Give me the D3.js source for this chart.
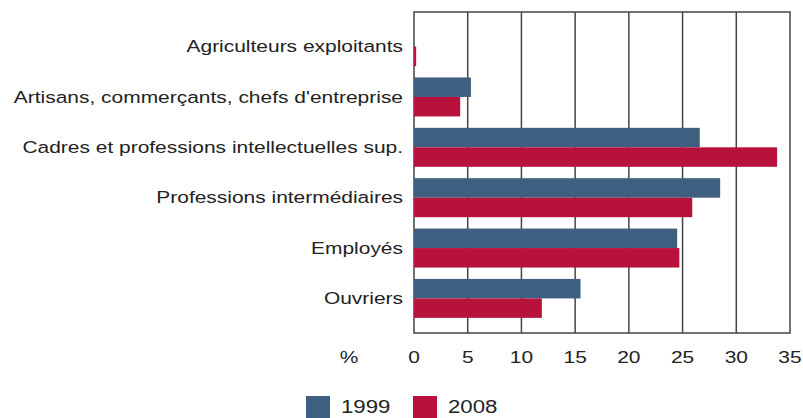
<!DOCTYPE html>
<html>
<head>
<meta charset="utf-8">
<script src="https://cdn.jsdelivr.net/npm/d3@7"></script>
<style>
  body { margin: 0; background: #fff; }
  text { font-family: "Liberation Sans", Arial, sans-serif; fill: #222; }
</style>
</head>
<body>
<div id="chart"></div>
<script>
var categories = ["Agriculteurs exploitants", "Artisans, commerçants, chefs d'entreprise",
  "Cadres et professions intellectuelles sup.", "Professions intermédiaires", "Employés", "Ouvriers"];
var values1999 = [0, 5.3, 26.6, 28.5, 24.5, 15.5];
var values2008 = [0.2, 4.3, 33.8, 25.9, 24.7, 11.9];
var seriesNames = ["1999", "2008"];
var xTicks = [0, 5, 10, 15, 20, 25, 30, 35];

var colors = {"1999": "#3e5f80", "2008": "#b7123b"};
var stretch = 1.27;

var margin = {top: 12, right: 13, bottom: 85, left: 414},
    width = 803 - margin.left - margin.right,
    height = 418 - margin.top - margin.bottom;

var svg = d3.select("#chart").append("svg")
    .attr("width", 803)
    .attr("height", 418)
  .append("g")
    .attr("transform", "translate(" + margin.left + "," + margin.top + ")");

var x = d3.scaleLinear().domain([0, 35]).range([0, width]);
var y = d3.scaleBand().domain(categories).range([0, height])
    .paddingInner(0.226).paddingOuter(0.3);
var ySub = d3.scaleBand().domain(seriesNames).range([0, y.bandwidth()]);

// frame + vertical gridlines
svg.append("rect")
    .attr("width", width).attr("height", height)
    .attr("fill", "none").attr("stroke", "#444").attr("stroke-width", 1.5);

svg.selectAll(".grid")
    .data(xTicks.slice(1, -1))
  .enter().append("line")
    .attr("x1", function(d) { return x(d); })
    .attr("x2", function(d) { return x(d); })
    .attr("y1", 0).attr("y2", height)
    .attr("stroke", "#444").attr("stroke-width", 1.5);

// bars
var groups = svg.selectAll(".cat")
    .data(categories)
  .enter().append("g")
    .attr("transform", function(d) { return "translate(0," + y(d) + ")"; });

groups.selectAll("rect")
    .data(function(d, i) {
      return [{s: "1999", v: values1999[i]}, {s: "2008", v: values2008[i]}];
    })
  .enter().append("rect")
    .attr("x", 0)
    .attr("y", function(d) { return ySub(d.s); })
    .attr("width", function(d) { return x(d.v); })
    .attr("height", ySub.bandwidth())
    .attr("fill", function(d) { return colors[d.s]; });

// category labels
svg.selectAll(".lab")
    .data(categories)
  .enter().append("text")
    .attr("transform", function(d) {
      return "translate(-11," + (y(d) + y.bandwidth() / 2) + ") scale(" + stretch + ",1)";
    })
    .attr("text-anchor", "end")
    .attr("dy", "0.35em")
    .style("font-size", "16.5px")
    .text(function(d) { return d; });

// x tick labels
svg.selectAll(".tick")
    .data(xTicks)
  .enter().append("text")
    .attr("transform", function(d) {
      return "translate(" + x(d) + "," + (height + 24) + ") scale(" + stretch + ",1)";
    })
    .attr("text-anchor", "middle")
    .attr("dy", "0.35em")
    .style("font-size", "16.5px")
    .text(function(d) { return d; });

svg.append("text")
    .attr("transform", "translate(-65," + (height + 24) + ") scale(" + stretch + ",1)")
    .attr("text-anchor", "middle")
    .attr("dy", "0.35em")
    .style("font-size", "16.5px")
    .text("%");

// legend
var legend = svg.append("g")
    .attr("transform", "translate(-108," + (height + 63) + ")");

var legItems = legend.selectAll("g")
    .data(seriesNames)
  .enter().append("g")
    .attr("transform", function(d, i) { return "translate(" + (i * 107) + ",0)"; });

legItems.append("rect")
    .attr("width", 24).attr("height", 22)
    .attr("fill", function(d) { return colors[d]; });

legItems.append("text")
    .attr("transform", "translate(35,11) scale(" + stretch + ",1)")
    .attr("dy", "0.35em")
    .style("font-size", "17.5px")
    .text(function(d) { return d; });
</script>
</body>
</html>
